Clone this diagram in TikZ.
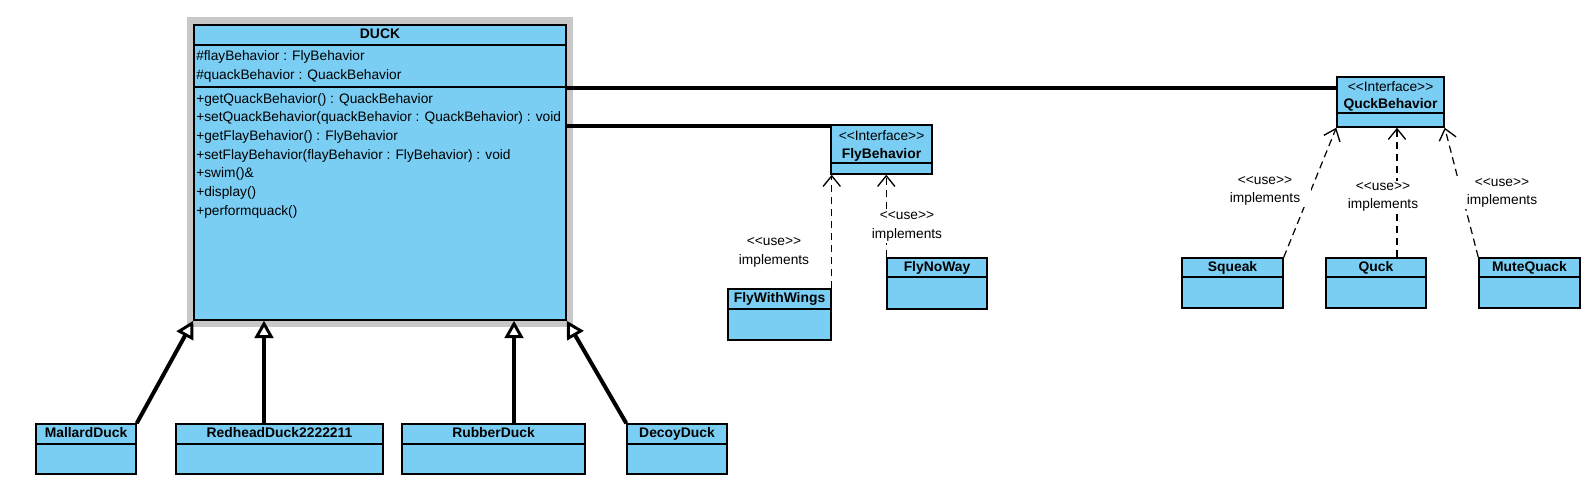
\documentclass[tikz,border=0pt]{standalone}
\usepackage{fontspec}
\setmainfont{Liberation Sans}
\usetikzlibrary{arrows.meta,fit,calc}
\definecolor{umlblue}{RGB}{122,206,244}
\definecolor{selgray}{RGB}{200,200,200}
\newcommand\umlbox[7]{%
  \node[box, fit={(#2,#3) (#4,#6)}] (#1) {};
  \draw[sepl] (#2,#5) -- (#4,#5);
  \node[ttl] (#1-t) at ({(#2+#4)/2},{(#3+#5)/2}) {#7};}
\begin{document}
\begin{tikzpicture}[x=0.75pt,y=-0.75pt,
  box/.style={draw=black, line width=1.1pt, fill=umlblue, inner sep=0pt},
  sepl/.style={draw=black, line width=1.1pt},
  ttl/.style={font=\fontsize{10.4}{12}\selectfont\bfseries, inner sep=0pt, text height=7.5pt, text depth=2pt},
  txt/.style={font=\fontsize{10.3}{12}\selectfont, inner sep=0pt, anchor=west, text height=7.5pt, text depth=2pt},
  lbl/.style={font=\fontsize{10.3}{14}\selectfont, align=center, fill=white, inner xsep=8pt, inner ysep=1pt},
  gen/.style={line width=3pt, -{Triangle[length=13pt,width=14pt,fill=white,line width=2.2pt]}},
  assoc/.style={line width=2.8pt},
  dep/.style={line width=0.9pt, dash pattern=on 5.5pt off 3.5pt, -{Straight Barb[length=8pt,width=13pt,line width=1pt]}}]
\useasboundingbox (0,0) rectangle (1590,483);

% DUCK class with selection frame
\fill[selgray] (187,17) rectangle (573,327);
\node[box, fit={(194,25) (566,320)}] (duck) {};
\draw[sepl] (194,45) -- (566,45);
\draw[sepl] (194,87) -- (566,87);
\node[ttl] (duck-t) at (380,35) {DUCK};
\node[txt] (a1) at (196,57) {\#flayBehavior : FlyBehavior};
\node[txt] (a2) at (196,76) {\#quackBehavior : QuackBehavior};
\node[txt] (m1) at (196,100) {+getQuackBehavior() : QuackBehavior};
\node[txt] (m2) at (196,118) {+setQuackBehavior(quackBehavior : QuackBehavior) : void};
\node[txt] (m3) at (196,137) {+getFlayBehavior() : FlyBehavior};
\node[txt] (m4) at (196,156) {+setFlayBehavior(flayBehavior : FlyBehavior) : void};
\node[txt] (m5) at (196,174) {+swim()\&};
\node[txt] (m6) at (196,193) {+display()};
\node[txt] (m7) at (196,212) {+performquack()};

% Interfaces
\node[box, fit={(831,125) (932,174)}] (fly) {};
\draw[sepl] (831,163) -- (932,163);
\node[txt, anchor=center] (fly-s) at (881.5,137) {<{}<Interface>{}>};
\node[ttl] (fly-t) at (881.5,155) {FlyBehavior};

\node[box, fit={(1337,77) (1444,127)}] (quck) {};
\draw[sepl] (1337,113) -- (1444,113);
\node[txt, anchor=center] (quck-s) at (1390.5,87.5) {<{}<Interface>{}>};
\node[ttl] (quck-t) at (1390.5,105) {QuckBehavior};

% Implementations
\umlbox{fww}{728}{289}{831}{309}{340}{FlyWithWings}
\umlbox{fnw}{887}{258}{987}{277}{309}{FlyNoWay}
\umlbox{squeak}{1182}{258}{1283}{277}{308}{Squeak}
\umlbox{quckc}{1326}{258}{1426}{277}{308}{Quck}
\umlbox{mute}{1479}{258}{1580}{277}{308}{MuteQuack}

% Subclasses
\umlbox{mallard}{36}{424}{136}{444}{474}{MallardDuck}
\umlbox{redhead}{176}{424}{383}{444}{474}{RedheadDuck2222211}
\umlbox{rubber}{402}{424}{585}{444}{474}{RubberDuck}
\umlbox{decoy}{627}{424}{727}{444}{474}{DecoyDuck}

% Associations
\coordinate (qa) at ($(quck.north west)+(0,12)$);
\draw[assoc] (duck.east |- qa) -- (qa);
\coordinate (fa) at ($(fly.north west)+(0,2)$);
\draw[assoc] (duck.east |- fa) -- (fa);

% Generalizations
\draw[gen] (mallard.north east) -- (duck.south west);
\coordinate (rh) at ($(redhead.north)+(-15.5,0)$);
\draw[gen] (rh) -- (rh |- duck.south);
\coordinate (rb) at ($(rubber.north)+(20.5,0)$);
\draw[gen] (rb) -- (rb |- duck.south);
\draw[gen] (decoy.north west) -- (duck.south east);

% Realizations
\draw[dep] (fww.north east) -- (fww.north east |- fly.south);
\draw[dep] (fnw.north west) -- (fnw.north west |- fly.south);
\draw[dep] (squeak.north east) -- (quck.south west);
\coordinate (qc) at ($(quckc.north)+(21,0)$);
\draw[dep] (qc) -- (qc |- quck.south);
\draw[dep] (mute.north west) -- (quck.south east);

% Labels
\node[lbl] (l1) at (774,252.5) {<{}<use>{}>\\implements};
\node[lbl] (l2) at (907,226.5) {<{}<use>{}>\\implements};
\node[lbl] (l3) at (1265,191) {<{}<use>{}>\\implements};
\node[lbl] (l4) at (1383,197) {<{}<use>{}>\\implements};
\node[lbl] (l5) at (1502,193) {<{}<use>{}>\\implements};
\end{tikzpicture}
\end{document}
